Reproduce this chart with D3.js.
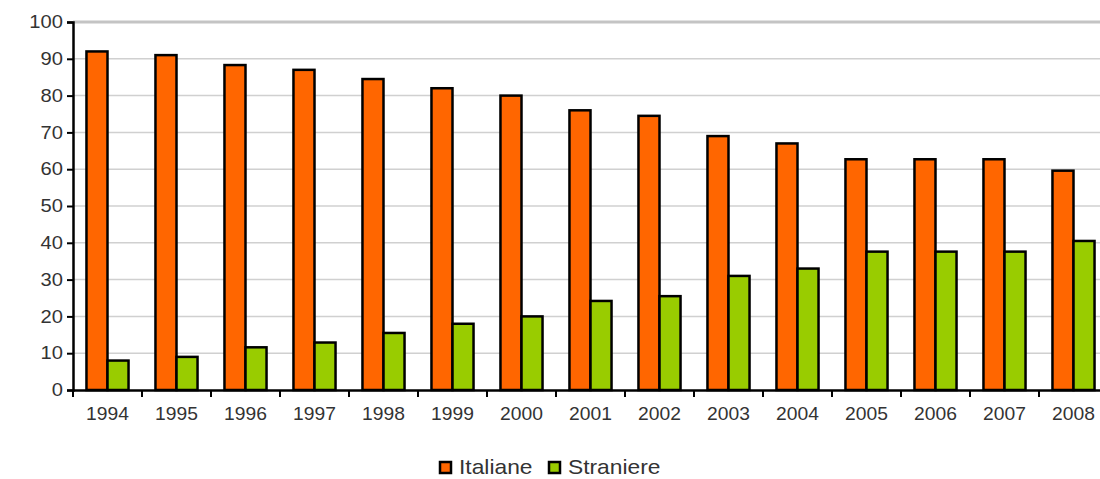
<!DOCTYPE html>
<html>
<head>
<meta charset="utf-8">
<script src="https://d3js.org/d3.v7.min.js"></script>
<style>
  body { margin: 0; background: #fff; }
  svg text { font-family: "Liberation Sans", Arial, sans-serif; fill: #333; }
</style>
</head>
<body>
<div id="chart"></div>
<script>
// data (percent)
var years = ["1994","1995","1996","1997","1998","1999","2000","2001","2002","2003","2004","2005","2006","2007","2008"];
var series = ["Italiane", "Straniere"];
var italiane  = [92, 91, 88.3, 87, 84.5, 82, 80, 76, 74.5, 69, 67, 62.7, 62.7, 62.7, 59.6];
var straniere = [8, 9, 11.6, 12.9, 15.5, 18, 20, 24.2, 25.5, 31, 33, 37.6, 37.6, 37.6, 40.5];
var yTicks = [0, 10, 20, 30, 40, 50, 60, 70, 80, 90, 100];
var colors = ["#ff6600", "#99cc00"];

var W = 1100, H = 479;
var svg = d3.select("#chart").append("svg")
    .attr("width", W).attr("height", H);

var x = d3.scaleBand().domain(years).range([73, 1108]);
var x1 = d3.scaleBand().domain(series).range([0, x.bandwidth()]).paddingOuter(0.64);
var y = d3.scaleLinear().domain([0, 100]).range([390, 22]);

// gridlines
svg.append("g").selectAll("line")
    .data(yTicks.filter(function(d) { return d > 0; }))
  .enter().append("line")
    .attr("x1", 73).attr("x2", W)
    .attr("y1", function(d) { return y(d); })
    .attr("y2", function(d) { return y(d); })
    .attr("stroke", function(d) { return d === 100 ? "#c4c4c4" : "#d0d0d0"; })
    .attr("stroke-width", function(d) { return d === 100 ? 3 : 1.5; });

// bars
var rows = years.map(function(yr, i) {
  return { year: yr, vals: [italiane[i], straniere[i]] };
});
var groups = svg.append("g").selectAll("g")
    .data(rows)
  .enter().append("g")
    .attr("transform", function(d) { return "translate(" + x(d.year) + ",0)"; });
groups.selectAll("rect")
    .data(function(d) { return d.vals.map(function(v, j) { return { key: series[j], v: v, j: j }; }); })
  .enter().append("rect")
    .attr("x", function(d) { return x1(d.key); })
    .attr("width", x1.bandwidth())
    .attr("y", function(d) { return y(d.v); })
    .attr("height", function(d) { return y(0) - y(d.v); })
    .attr("fill", function(d) { return colors[d.j]; })
    .attr("stroke", "#000")
    .attr("stroke-width", 2.5);

// y axis
var yAxis = svg.append("g")
    .attr("transform", "translate(73,0)")
    .call(d3.axisLeft(y).tickValues(yTicks).tickSize(6).tickPadding(3));
yAxis.select(".domain").attr("stroke", "#000").attr("stroke-width", 2.5);
yAxis.selectAll(".tick line").attr("stroke", "#000").attr("stroke-width", 2);
yAxis.selectAll(".tick text")
    .style("font-size", "18px").attr("fill", "#333")
    .attr("transform", "scale(1.12,1)");

// x axis
var xAxis = svg.append("g")
    .attr("transform", "translate(0,390)")
    .call(d3.axisBottom(x).tickSize(0).tickPadding(18));
xAxis.select(".domain").attr("stroke", "#000").attr("stroke-width", 2.5);
xAxis.selectAll(".tick text")
    .style("font-size", "17.5px").attr("fill", "#333")
    .attr("transform", "scale(1.1,1)");
xAxis.append("g").selectAll("line")
    .data(years)
  .enter().append("line")
    .attr("x1", function(d) { return x(d); })
    .attr("x2", function(d) { return x(d); })
    .attr("y1", 0).attr("y2", 7)
    .attr("stroke", "#000").attr("stroke-width", 2);

// y label, mostly cut off at the left edge
svg.append("clipPath").attr("id", "ylab")
  .append("rect").attr("x", 9).attr("y", 0).attr("width", 20).attr("height", H);
svg.append("text")
    .attr("clip-path", "url(#ylab)")
    .attr("transform", "translate(15,205) rotate(-90)")
    .style("text-anchor", "middle")
    .style("font-size", "16px")
    .text("%");

// legend
var legend = svg.append("g").attr("transform", "translate(440,462)");
var items = legend.selectAll("g")
    .data(series)
  .enter().append("g")
    .attr("transform", function(d, i) { return "translate(" + (i * 109) + ",0)"; });
items.append("rect")
    .attr("width", 11).attr("height", 11)
    .attr("fill", function(d, i) { return colors[i]; })
    .attr("stroke", "#000").attr("stroke-width", 2.5);
items.append("text")
    .attr("x", 19).attr("y", 12)
    .style("font-size", "20px")
    .attr("transform", "translate(19,0) scale(1.14,1) translate(-19,0)")
    .text(function(d) { return d; });
</script>
</body>
</html>
